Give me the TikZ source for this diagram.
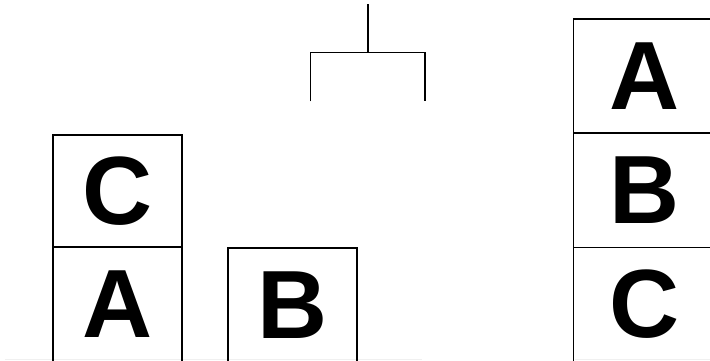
\documentclass[tikz,border=0pt]{standalone}
\usepackage{fontspec}
\setmainfont{Liberation Sans}
\begin{document}
\begin{tikzpicture}[x=1pt,y=-1pt,
  blk/.style={draw=black, line width=1.6pt, rectangle, inner sep=0pt,
    font=\fontsize{97}{97}\selectfont\bfseries},
  gr/.style={draw=black, line width=1.8pt}]
\useasboundingbox (0,0) rectangle (710,361);
\begin{scope}
\clip (0,0) rectangle (710,361);
% faint floor lines
\draw[gray!12, line width=1pt] (5,359.5) -- (422,359.5);
\draw[gray!12, line width=1pt] (575,359.5) -- (710,359.5);
% left stack
\node[blk, minimum width=129, minimum height=112] (c1) at (117.2,191) {C};
\node[blk, minimum width=129, minimum height=115] (a1) at (117.2,304.5) {A};
\node[blk, minimum width=128.5, minimum height=114] (b1) at (292.5,305) {B};
% right stack
\node[blk, minimum width=141.5, minimum height=113.7] (a2) at (644.2,75.9) {A};
\node[blk, minimum width=141.5, minimum height=114.6] (b2) at (644.2,190) {B};
\node[blk, minimum width=141.5, minimum height=114.6] (c2) at (644.2,304.6) {C};
\end{scope}
% gripper
\coordinate (gtop) at (367.8,4.5);
\coordinate (gmid) at (367.8,52.5);
\coordinate (gl) at (310.5,52.5);
\coordinate (gr) at (425,52.5);
\coordinate (gld) at (310.5,101.5);
\coordinate (grd) at (425,101.5);
\draw[gr] (gtop) -- (gmid);
\draw[gr, line join=miter] (gld) -- (gl) -- (gr) -- (grd);
\end{tikzpicture}
\end{document}
